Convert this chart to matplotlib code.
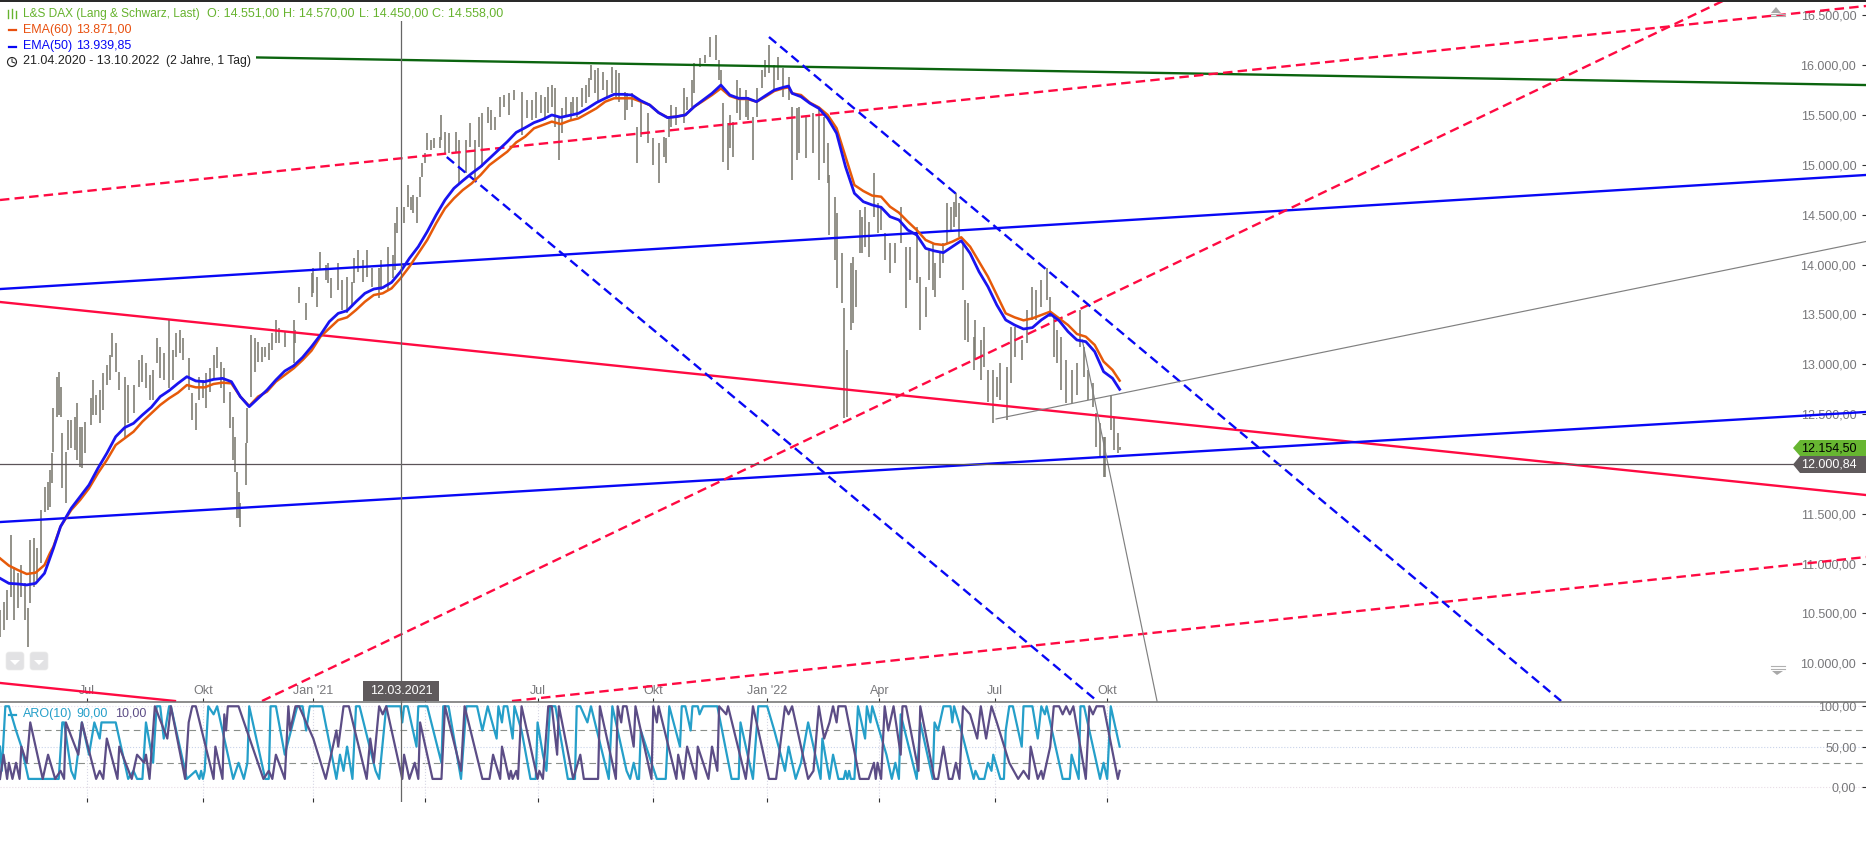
import matplotlib
matplotlib.use("Agg")
import matplotlib.pyplot as plt
from matplotlib.patches import Polygon, Rectangle, FancyBboxPatch

plt.rcParams["font.family"] = ["Liberation Sans", "DejaVu Sans"]

# Price bars (trading day number since 21.04.2020, high, low)
bar_idx = [0,2,4,6,8,10,12,14,16,17,19,21,23,25,27,28,29,30,32,33,34,35,37,38,40,42,43,45,46,48,
           51,52,54,56,58,60,62,63,65,67,70,72,75,78,80,82,84,86,88,90,92,95,97,99,101,103,106,108,110,112,
           114,116,118,120,122,124,126,129,131,132,133,134,135,138,139,141,143,145,147,149,151,153,155,157,160,165,166,168,172,175,
           176,178,180,183,184,186,190,192,195,198,199,201,204,206,209,213,214,218,221,222,223,227,229,231,232,234,236,237,239,240,
           242,244,247,248,250,252,256,258,262,264,267,269,271,274,276,278,281,283,286,289,293,296,299,301,304,306,308,310,312,314,
           316,318,321,322,324,327,329,331,332,334,336,339,341,344,346,348,351,352,355,358,360,364,367,370,373,374,376,377,380,384,
           386,389,390,393,396,399,402,404,405,406,409,410,412,414,416,419,420,423,425,428,430,432,435,437,440,443,445,448,449,453,
           457,460,463,465,466,469,470,473,474,476,478,479,481,483,484,486,488,491,493,495,497,500,503,506,509,511,515,517,520,522,
           524,525,528,530,532,534,536,537,539,541,542,544,547,548,551,553,555,558,560,562,566,568,570,574,577,580,582,585,588,590,
           592,594,596,599,602,605,607,609,611,614,616,618,620,621,624,626,628,629]
bar_high = [10535,10619,10736,11287,10970,10903,10986,10802,10552,11237,11254,11153,11538,11772,11822,11939,12106,12557,12875,12925,12775,12307,12123,12441,12441,12474,12608,12374,12374,12424,
            12658,12842,12691,12741,12909,12992,13092,13316,13209,12925,12875,12791,12791,13042,13092,13009,12892,12942,13260,13176,13109,13443,13143,13310,13343,13260,13059,12708,12608,12875,
            12842,12909,12959,13092,13176,13026,12959,12725,12474,12273,11922,11722,11605,12206,12557,13293,13260,13226,13176,13176,13209,13310,13443,13360,13326,13443,13343,13778,13610,13911,
            13961,13878,14129,13995,14012,13861,14012,13845,13878,13828,14062,14145,14045,14145,13961,13961,14045,14179,14095,14413,14580,14580,14797,14680,14697,14680,14881,15015,15115,15315,
            15249,15265,15282,15499,15332,15315,15332,15249,15249,15416,15249,15483,15516,15583,15549,15483,15683,15700,15717,15750,15733,15650,15650,15733,15700,15683,15784,15800,15767,15483,
            15566,15683,15633,15683,15683,15767,15800,15867,16001,15951,15968,15934,15851,15984,15951,15917,15734,15717,15717,15383,15633,15516,15265,15215,15282,15265,15466,15600,15583,15767,
            15683,15851,16018,16068,16101,16285,16302,16051,15951,15617,15416,15500,15433,15851,15767,15750,15683,15483,15767,15951,16051,16202,16001,16085,15968,15884,15583,15566,15583,15483,
            15516,15550,15483,15215,14898,14681,14513,14112,13561,13143,14012,14079,13945,14547,14480,14580,14430,14915,14614,14580,14313,14212,14212,14580,14179,14179,14380,13878,13778,14146,
            14212,14012,14112,14212,14614,14580,14630,14714,14614,14212,13644,13611,13276,13444,13243,13377,12942,12942,12875,13009,12976,13377,13377,13243,13544,13778,13744,13845,13962,13678,
            13477,13343,13276,13042,12942,13009,13544,13176,12942,12808,12507,12407,12273,12273,12691,12473,12306,12173]
bar_low = [10268,10334,10435,10669,10435,10552,10669,10435,10167,10602,10769,10836,11003,11521,11538,11571,11805,12123,12474,12491,12474,11755,11605,12140,12156,12140,12039,11972,11956,12106,
           12390,12491,12491,12407,12541,12791,12842,13076,12925,12741,12273,12407,12507,12775,12825,12758,12641,12641,13009,12858,12842,12758,12842,13076,13109,13042,12741,12441,12340,12641,
           12658,12557,12725,12842,12959,12758,12608,12357,12039,11922,11454,11454,11371,11789,12206,12674,12925,13026,13026,13076,13042,13143,13209,13209,13176,13009,13209,13610,13443,13677,
           13711,13577,13945,13845,13811,13661,13744,13544,13510,13577,13811,13928,13828,13878,13778,13661,13744,13744,13861,13945,14312,14413,14580,14547,14513,14413,14680,14881,15015,15148,
           15148,15165,15165,15249,15115,15115,15115,14814,14914,15182,14847,15182,14981,15416,15349,15349,15483,15583,15499,15650,15299,15466,15449,15466,15516,15449,15516,15583,15383,15048,
           15316,15483,15449,15516,15483,15583,15617,15683,15851,15717,15617,15750,15683,15717,15683,15633,15449,15550,15583,15015,15282,15215,14998,14814,15082,15015,15282,15383,15399,15416,
           15550,15583,15717,15984,16018,16085,16051,15851,15800,15031,14948,15165,15082,15516,15449,15483,15449,15048,15483,15767,15884,15917,15750,15851,15683,15650,14848,15048,15115,15065,
           15115,14848,15015,14814,14296,14045,13761,13611,12457,12474,13343,13410,13577,14112,14112,14179,14079,14480,14313,14346,14045,13911,14012,14212,13561,13845,13811,13343,13477,13845,
           13744,13678,13861,14012,14212,14346,14380,14480,14279,13744,13243,13226,12942,13042,12842,12976,12625,12407,12675,12641,12441,12808,13076,13042,13210,13444,13444,13577,13644,13477,
           13076,13009,12742,12608,12608,12691,13176,12875,12641,12574,12173,12072,11872,11872,12340,12139,12106,12139]

# EMA lines
ema_idx = [0,5,10,15,20,25,28,30,34,40,45,50,55,60,65,70,75,80,85,90,95,100,105,110,115,120,125,130,135,140,
           145,150,155,160,165,170,175,180,185,190,195,200,205,210,215,220,225,230,235,240,245,250,255,260,265,270,275,280,285,290,
           295,300,305,310,315,320,325,330,335,340,345,350,355,360,365,370,375,380,385,390,395,400,405,410,415,420,425,430,435,440,
           443,445,450,455,460,465,470,475,480,485,490,495,500,505,510,515,520,525,530,535,540,545,550,555,560,565,570,575,580,585,
           590,595,600,605,610,615,620,625,629]
ema50 = [10853,10802,10796,10786,10802,10903,11053,11153,11371,11555,11672,11789,11956,12106,12273,12364,12407,12491,12568,12675,12735,12808,12875,12832,12825,12848,12858,12825,12675,12574,
         12658,12741,12842,12932,12985,13069,13176,13293,13427,13510,13537,13627,13711,13754,13768,13821,13928,14062,14179,14329,14496,14647,14764,14841,14914,14981,15065,15148,15232,15325,
         15372,15423,15456,15500,15476,15496,15516,15566,15623,15667,15707,15707,15700,15643,15600,15523,15473,15483,15500,15583,15650,15717,15800,15700,15667,15667,15633,15693,15750,15777,
         15790,15717,15683,15617,15566,15466,15316,14981,14714,14630,14597,14574,14480,14447,14346,14296,14162,14136,14119,14179,14239,14112,13928,13778,13594,13444,13393,13353,13367,13444,
         13504,13437,13327,13243,13226,13126,12925,12859,12748]
ema60 = [11053,10980,10936,10896,10909,10986,11103,11170,11371,11538,11638,11755,11906,12039,12190,12257,12323,12424,12507,12591,12658,12715,12791,12768,12768,12802,12815,12808,12675,12581,
         12675,12725,12825,12892,12959,13042,13136,13276,13360,13443,13470,13544,13627,13694,13711,13761,13861,13978,14112,14246,14413,14563,14663,14747,14814,14898,14998,15065,15132,15225,
         15282,15366,15399,15433,15409,15443,15466,15516,15566,15633,15667,15667,15667,15633,15600,15523,15476,15483,15500,15583,15640,15700,15767,15690,15660,15660,15633,15683,15740,15767,
         15777,15717,15700,15623,15576,15500,15366,15082,14797,14737,14691,14680,14580,14520,14430,14346,14246,14206,14196,14229,14273,14179,14029,13878,13694,13510,13470,13440,13460,13494,
         13527,13460,13393,13303,13276,13193,13026,12942,12835]

# Trend lines drawn on the chart: two anchors each (bar number, price)
green_line = ([0, 1048.3], [16121, 15800])
red_dash_lines = [([0, 1048.3], [14647, 16593]),
                  ([147.2, 969], [9622, 16653]),
                  ([287.6, 1048.3], [9622, 11066])]
red_lines = [([0, 1048.3], [13624, 11688]),
             ([0, 98.3], [9803, 9622])]
blue_lines = [([0, 1048.3], [13754, 14898]),
              ([0, 1048.3], [11417, 12521])]
blue_dash_lines = [([251, 615], [15078, 9642]),
                   ([432, 877], [16282, 9622])]
gray_lines = [([559.6, 1048.3], [12451, 14231]),
              ([608, 650], [13243, 9622])]
level_line = 12000.84
cross_idx = 225.3

# Aroon sub chart
aro_up_idx = [0,1,3,5,9,12,16,33,35,36,40,42,46,50,53,56,57,65,72,75,77,80,82,86,88,90,92,95,96,105,110,112,113,114,115,117,120,122,131,134,137,139,140,149,151,152,155,160,
              167,170,172,174,181,189,191,193,195,198,200,202,211,213,217,225,226,227,229,234,235,240,248,249,252,259,260,262,265,268,271,274,279,280,282,283,285,288,289,293,298,301,302,305,307,309,312,
              319,323,324,326,330,332,342,344,352,354,356,358,359,360,369,374,376,382,383,385,388,389,392,393,395,403,411,415,416,423,426,431,435,441,443,447,450,454,455,461,462,466,468,471,474,475,476,477,478,480,
              482,486,487,489,490,498,501,503,505,506,515,517,524,525,527,530,534,535,536,540,547,548,550,553,555,557,558,562,564,565,567,569,574,575,580,583,585,587,588,597,601,602,606,607,609,618,620,622,624,629]
aro_up = [50,20,100,100,70,50,10,10,80,80,20,10,80,40,80,60,80,80,10,20,10,10,80,30,100,100,60,100,100,10,20,10,20,10,20,100,90,100,10,30,10,30,100,10,10,100,100,40,
          100,100,70,100,100,10,40,20,50,10,100,100,20,10,100,100,80,100,100,50,100,100,30,100,100,10,40,100,100,100,70,100,60,100,80,100,100,60,100,70,10,10,80,40,20,100,100,
          10,10,100,100,80,100,10,100,20,10,30,10,10,70,10,10,100,50,100,100,70,100,100,90,100,100,10,10,80,10,100,100,70,20,50,10,30,80,70,10,60,10,40,10,10,20,10,20,10,10,
          100,60,100,80,100,40,10,30,10,90,10,80,10,80,70,100,100,80,100,70,10,20,10,10,30,20,40,10,10,70,100,100,50,100,100,60,100,90,100,10,10,40,10,100,100,10,30,10,100,50]
aro_down_idx = [0,2,4,5,7,9,11,12,15,17,24,27,31,34,36,37,44,46,54,56,58,60,66,67,74,77,81,82,84,87,94,96,104,106,108,110,120,121,125,126,127,128,134,148,151,153,155,160,162,163,166,168,176,183,189,190,193,196,
                206,208,210,213,215,217,226,227,230,233,235,236,243,248,250,259,261,271,275,277,281,282,286,287,288,290,291,293,302,303,305,308,310,313,314,322,326,328,336,337,346,347,349,350,352,356,357,
                366,367,369,370,380,381,384,386,391,392,398,400,403,404,408,409,419,420,423,432,436,441,443,445,454,457,460,463,466,468,470,471,475,483,488,491,492,493,495,497,499,502,506,507,509,516,517,525,527,
                530,533,535,537,539,541,545,549,551,554,557,560,567,572,575,578,579,583,585,586,590,592,595,597,599,601,603,610,612,614,616,620,628,629]
aro_down = [10,40,10,30,10,30,10,50,30,80,10,40,10,20,10,80,40,80,10,20,10,60,10,50,10,40,30,40,10,100,60,100,10,80,100,100,10,50,10,90,70,100,100,10,20,10,40,10,100,70,100,100,60,10,70,50,100,100,
            10,60,30,100,90,100,10,40,10,30,10,80,10,10,100,20,100,10,10,40,10,50,10,20,10,20,10,100,10,20,10,100,100,40,100,10,40,10,10,100,10,100,80,100,100,50,100,
            10,100,80,100,10,40,10,50,10,50,10,50,20,100,90,100,10,30,100,10,10,100,90,100,10,20,100,60,80,100,80,100,100,10,10,30,10,30,10,100,70,100,40,100,100,20,100,10,10,
            50,10,10,30,10,100,90,60,100,60,100,80,30,10,20,10,50,10,20,10,50,100,100,90,100,90,100,10,100,90,100,100,10,20]

# Tick labels (the April 2021 label sits under the crosshair tag in the reference)
month_idx = [49, 114, 176, 239, 302, 367, 431, 494, 559, 622]
month_labels = ["Jul", "Okt", "Jan '21", "", "Jul", "Okt", "Jan '22", "Apr", "Jul", "Okt"]
price_ticks = [10000, 10500, 11000, 11500, 12000, 12500, 13000, 13500, 14000, 14500, 15000, 15500, 16000, 16500]
aro_ticks = [0, 50, 100]

BAR_C = "#7b7a70"
RED = "#ff0a42"
BLUE = "#0808f5"
TEXT_C = "#77777a"
GREEN_T = "#66b32e"
DARK = "#5f5a5c"
CYAN = "#259fc9"
PURPLE = "#5c4d86"


def german(v):
    return f"{v:,.2f}".replace(",", "X").replace(".", ",").replace("X", ".")


fig = plt.figure(figsize=(18.66, 8.5), dpi=100)
ax = fig.add_axes([0, 148 / 850, 1, 702 / 850])
sub = fig.add_axes([0, 48 / 850, 1, 100 / 850], sharex=ax)

# Main chart
ax.vlines(bar_idx, bar_low, bar_high, color=BAR_C, lw=1.15, zorder=2)
ax.plot(*green_line, color="#0b640f", lw=1.7, zorder=3)
for xs, ys in red_lines:
    ax.plot(xs, ys, color=RED, lw=1.7, zorder=3)
for xs, ys in blue_lines:
    ax.plot(xs, ys, color=BLUE, lw=1.7, zorder=3)
for xs, ys in red_dash_lines:
    ax.plot(xs, ys, color=RED, lw=1.7, ls=(0, (4, 2.2)), zorder=3)
for xs, ys in blue_dash_lines:
    ax.plot(xs, ys, color=BLUE, lw=1.7, ls=(0, (4, 2.2)), zorder=3)
for xs, ys in gray_lines:
    ax.plot(xs, ys, color="#808080", lw=0.85, zorder=3)
ax.axhline(level_line, color="#5b5358", lw=0.9, zorder=3)
ax.plot(ema_idx, ema60, color="#e65a0a", lw=1.8, zorder=4)
ax.plot(ema_idx, ema50, color="#1a14f0", lw=2.0, zorder=5)
ax.axvline(cross_idx, color="#666666", lw=0.9, zorder=6)

ax.set_xlim(0, 1048.3)
ax.set_ylim(9612, 16653)
ax.yaxis.tick_right()
ax.set_yticks(price_ticks)
ax.set_yticklabels([german(v) for v in price_ticks], ha="right", color=TEXT_C, fontsize=9)
ax.tick_params(axis="y", direction="in", length=3, width=0.8, pad=-7, color="#333333")
ax.set_xticks(month_idx)
ax.set_xticklabels(month_labels, color=TEXT_C, fontsize=9)
ax.tick_params(axis="x", direction="in", length=3, width=0.8, pad=-12.5, color="#333333")
for s in ax.spines.values():
    s.set_visible(False)

# Aroon
sub.plot(aro_up_idx, aro_up, color=CYAN, lw=1.6, zorder=3)
sub.plot(aro_down_idx, aro_down, color=PURPLE, lw=1.6, zorder=4)
for v in [70, 30]:
    sub.axhline(v, color="#8a8f8a", lw=0.8, ls=(0, (6, 4)), zorder=1)
for v, c in [(100, "#e6def0"), (50, "#c9d3ea"), (0, "#e8dce6")]:
    sub.axhline(v, color=c, lw=0.8, ls=":", zorder=1)
for v in month_idx:
    sub.axvline(v, color="#d6d6e4", lw=0.8, ls=":", zorder=1)
sub.axvline(cross_idx, color="#666666", lw=0.9, zorder=6)
sub.set_ylim(-18.6, 105.3)
sub.yaxis.tick_right()
sub.set_yticks(aro_ticks)
sub.set_yticklabels([german(v) for v in aro_ticks], ha="right", color=TEXT_C, fontsize=9)
sub.tick_params(axis="y", direction="in", length=3, width=0.8, pad=-7, color="#333333")
sub.tick_params(axis="x", direction="in", length=3, width=0.8, labelbottom=False, color="#333333")
for k, s in sub.spines.items():
    s.set_visible(k == "top")
sub.spines["top"].set_color("#6e6e6e")
sub.spines["top"].set_linewidth(1.1)

# Overlay in screen pixels for legend text, tags and buttons
ov = fig.add_axes([0, 0, 1, 1], zorder=10)
ov.set_xlim(0, 1866)
ov.set_ylim(850, 0)
ov.axis("off")
ov.patch.set_alpha(0)
ov.add_patch(Rectangle((0, 0), 1866, 2, color="#2a2a2a", lw=0))


def label(x, y, s, c, size=9):
    ov.text(x, y, s, color=c, fontsize=size, va="center")


ov.add_patch(Rectangle((0, 2), 510, 19, color="white", lw=0))
ov.add_patch(Rectangle((0, 21), 140, 33, color="white", lw=0))
ov.add_patch(Rectangle((0, 54), 256, 15, color="white", lw=0))
ov.plot([8, 8], [10, 18], color=GREEN_T, lw=1)
ov.plot([12, 12], [9, 18], color=GREEN_T, lw=1)
ov.plot([16, 16], [11, 18], color=GREEN_T, lw=1)
label(23, 13.5, "L&S DAX (Lang & Schwarz, Last)", GREEN_T, size=8.6)
label(207, 13.5, "O: 14.551,00", GREEN_T)
label(283, 13.5, "H: 14.570,00", GREEN_T)
label(359, 13.5, "L: 14.450,00", GREEN_T)
label(432, 13.5, "C: 14.558,00", GREEN_T)
ov.plot([9, 16], [30, 30], color="#e8500f", lw=1.6)
label(23, 29.5, "EMA(60)", "#e8500f")
label(76, 29.5, "13.871,00", "#e8500f")
ov.plot([9, 16], [47, 47], color=BLUE, lw=1.6)
label(23, 45.5, "EMA(50)", BLUE)
label(76, 45.5, "13.939,85", BLUE)
ov.add_patch(plt.Circle((12, 62), 4.5, fc="none", ec="#222222", lw=0.8))
ov.plot([12, 12, 15], [59, 62, 63], color="#222222", lw=0.7)
label(23, 61, "21.04.2020 - 13.10.2022", "#222222")
label(166, 61, "(2 Jahre, 1 Tag)", "#222222", size=8.7)

# ARO legend with soft background
ov.plot([9, 16], [715, 715], color=CYAN, lw=1.6)
for x, s, c in [(23, "ARO(10)", CYAN), (76, "90,00", CYAN), (115, "10,00", PURPLE)]:
    ov.text(x, 714, s, color=c, fontsize=9, va="center",
            bbox=dict(fc="white", ec="none", alpha=0.65, pad=0.5))

# Crosshair date tag
ov.add_patch(Rectangle((363, 681), 76, 20, color=DARK, lw=0))
ov.text(401, 691, "12.03.2021", color="white", fontsize=9, ha="center", va="center")

# Value tags on the right
ov.add_patch(Polygon([(1793, 448), (1800, 440), (1866, 440), (1866, 456), (1800, 456)], color="#67b631", lw=0))
ov.text(1857, 448, "12.154,50", color="black", fontsize=9, ha="right", va="center")
ov.add_patch(Polygon([(1793, 464.5), (1800, 456), (1866, 456), (1866, 473), (1800, 473)], color=DARK, lw=0))
ov.text(1857, 464.5, "12.000,84", color="white", fontsize=9, ha="right", va="center")

# Small buttons
for x0 in [6, 30]:
    ov.add_patch(FancyBboxPatch((x0, 652), 18, 18, boxstyle="round,pad=0,rounding_size=3", fc="#e2e2e4", ec="#ececec", lw=0.5))
    ov.add_patch(Polygon([(x0 + 4, 660), (x0 + 14, 660), (x0 + 9, 665)], color="white", lw=0))

# Collapse arrows
ov.add_patch(Polygon([(1771, 13), (1776, 7), (1781, 13)], color="#a8a8a8", lw=0))
for y in [13.5, 16]:
    ov.plot([1771, 1785], [y, y], color="#b0b0b0", lw=0.8)
ov.add_patch(Polygon([(1772, 671), (1777, 675), (1783, 671)], color="#a8a8a8", lw=0))
for y in [666, 669]:
    ov.plot([1771, 1785], [y, y], color="#b0b0b0", lw=0.8)

fig.savefig("out.png", dpi=100)
